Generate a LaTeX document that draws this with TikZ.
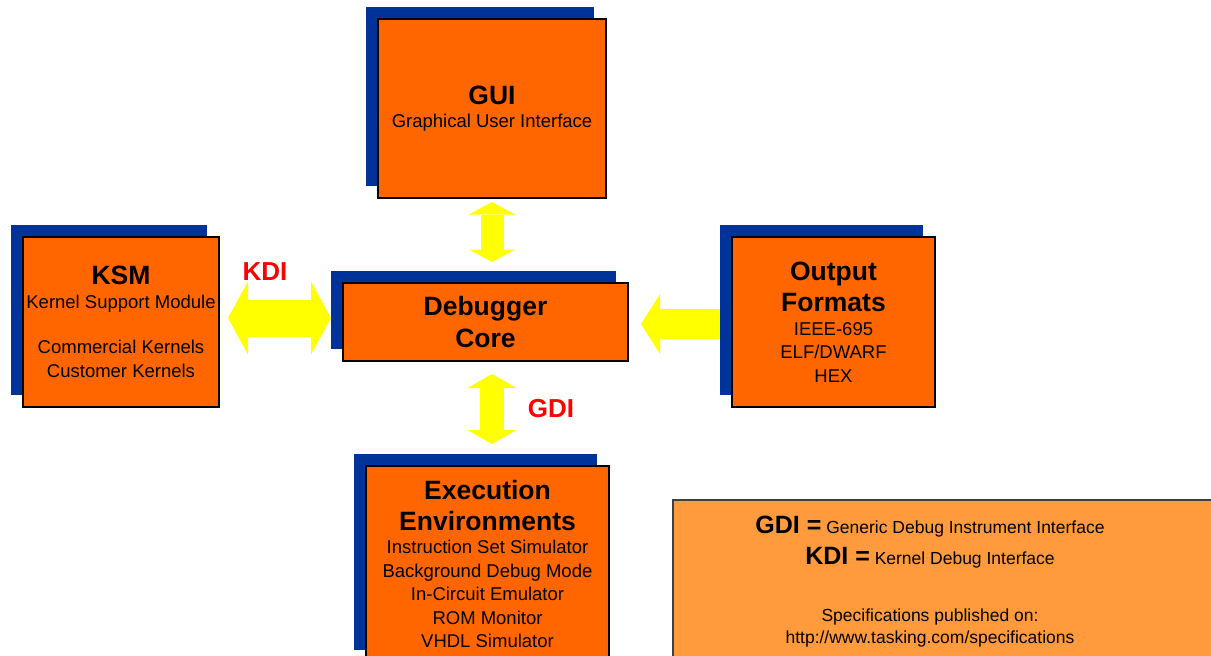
\documentclass[tikz,border=0pt]{standalone}
\usepackage{fontspec}
\setmainfont{Liberation Sans}
\usetikzlibrary{arrows.meta,shadows}
\definecolor{cam}{HTML}{FF6600}
\definecolor{camnhat}{HTML}{FF9B3D}
\definecolor{xanh}{HTML}{003399}
\definecolor{vang}{HTML}{FFFF00}
\definecolor{do}{HTML}{FF0000}
\newcommand\boxtitle[1]{{\fontsize{26.5}{30}\selectfont\bfseries #1}}
\begin{document}
\begin{tikzpicture}[x=1pt, y=-1pt]
	\tikzset{dbg-box/.style={draw=black, line width=2pt, fill=cam, inner sep=0pt, align=center,
			font=\fontsize{18.5}{23.5}\selectfont,
			drop shadow={shadow xshift=-12pt, shadow yshift=12pt, opacity=1, fill=xanh}},
		fat-arrow/.style n args={3}{draw=vang, line width=#1,
			>={Triangle[length=#2, width=#3, line width=0pt]}},
		if-label/.style={text=do, inner sep=0pt, font=\fontsize{26}{26}\selectfont\bfseries}}
	\useasboundingbox (0,0) rectangle (1211,656);
	\clip (0,0) rectangle (1211,656);
	\node[dbg-box, minimum width=228, minimum height=179] (gui) at (492,108.5)
		{\boxtitle{GUI}\\Graphical User Interface};
	\node[dbg-box, minimum width=196, minimum height=170] (ksm) at (121,322)
		{\boxtitle{KSM}\\Kernel Support Module\\[22pt]Commercial Kernels\\Customer Kernels};
	\node[dbg-box, minimum width=285, minimum height=78] (core) at (485.5,322)
		{\boxtitle{Debugger}\\[7pt]\boxtitle{Core}};
	\node[dbg-box, minimum width=203, minimum height=170] (out) at (833.5,322)
		{\boxtitle{Output}\\[7pt]\boxtitle{Formats}\\IEEE-695\\ELF/DWARF\\HEX};
	\node[dbg-box, minimum width=243, minimum height=196] (exec) at (487.5,564)
		{\boxtitle{Execution}\\[7pt]\boxtitle{Environments}\\Instruction Set Simulator\\Background Debug Mode\\In-Circuit Emulator\\ROM Monitor\\VHDL Simulator};
	\node[draw=black!75, line width=1.5pt, fill=camnhat, minimum width=540, minimum height=164] (legend) at (943,582) {};
	\node[inner sep=0pt, align=center, font=\fontsize{17.5}{22}\selectfont] (legend-text) at ([xshift=-13pt]legend.center)
		{{\fontsize{25}{25}\selectfont\bfseries GDI =} {\fontsize{17.5}{22}\selectfont Generic Debug Instrument Interface}\\[9pt]
			{\fontsize{25}{25}\selectfont\bfseries KDI =} {\fontsize{17.5}{22}\selectfont Kernel Debug Interface}\\[35pt]
			Specifications published on:\\http://www.tasking.com/specifications};
	\draw[fat-arrow={23pt}{12.5pt}{46pt}, <->, shorten <=3pt, shorten >=20pt] (gui.south) -- (gui.south |- core.north);
	\draw[fat-arrow={24pt}{14pt}{49pt}, <->, shorten <=12pt, shorten >=21pt] (gui.south |- core.south) -- (gui.south |- exec.north);
	\draw[fat-arrow={37pt}{20pt}{73pt}, <->, shorten <=8pt, shorten >=11pt] ([yshift=4pt]ksm.east) -- ([yshift=4pt]ksm.east -| core.west);
	\draw[fat-arrow={30pt}{19pt}{60pt}, ->, shorten <=11pt, shorten >=12pt] ([yshift=-2pt]out.west) -- ([yshift=-2pt]out.west -| core.east);
	\node[if-label] (kdi) at (265,272) {KDI};
	\node[if-label] (gdi) at (551,409) {GDI};
\end{tikzpicture}
\end{document}
